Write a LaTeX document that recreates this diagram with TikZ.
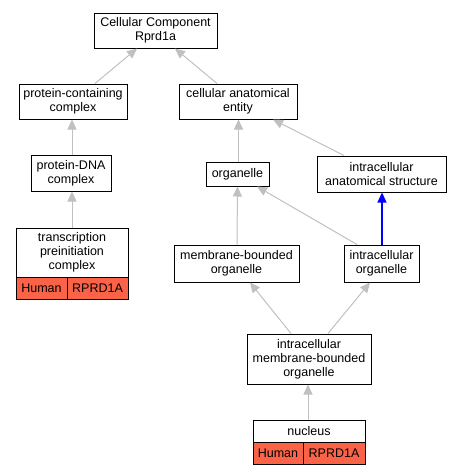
\documentclass[tikz,border=0pt]{standalone}
\usepackage{fontspec}
\setmainfont{Liberation Sans}
\usetikzlibrary{arrows.meta}
\definecolor{genecell}{HTML}{FA6347}
\definecolor{edgegray}{HTML}{C0C0C0}
\begin{document}
\begin{tikzpicture}[x=1pt,y=-1pt,
  box/.style={draw=black, line width=1pt, fill=white, inner sep=0pt, align=center,
    font=\fontsize{12.5}{14}\selectfont},
  cell/.style={box, fill=genecell},
  isa/.style={draw=edgegray, line width=1pt, -{Triangle[length=10pt,width=9pt]}},
  partof/.style={draw=blue, line width=1.3pt, -{Triangle[length=10pt,width=9pt]}}]
\useasboundingbox (0,0) rectangle (461,475);
\node[box, minimum width=123pt, minimum height=35pt] (cc) at (155.5,30.5) {Cellular Component\\Rprd1a};
\node[box, minimum width=108pt, minimum height=35pt] (pcc) at (73,101.5) {protein-containing\\complex};
\node[box, minimum width=118pt, minimum height=35pt] (cae) at (238,101.5) {cellular anatomical\\entity};
\node[box, minimum width=80pt, minimum height=36pt] (pdna) at (71,173) {protein-DNA\\complex};
\node[box, minimum width=63pt, minimum height=24pt] (org) at (237.5,174) {organelle};
\node[box, minimum width=129pt, minimum height=36pt] (ias) at (381.5,174) {intracellular\\anatomical structure};
\node[box, minimum width=112pt, minimum height=49pt] (tpc) at (72,252.5) {transcription\\preinitiation\\complex};
\node[cell, minimum width=51pt, minimum height=22pt] (tpch) at (41.5,288) {Human};
\node[cell, minimum width=61pt, minimum height=22pt] (tpcg) at (97.5,288) {RPRD1A};
\node[box, minimum width=125pt, minimum height=37pt] (mbo) at (236.5,263.5) {membrane-bounded\\organelle};
\node[box, minimum width=75pt, minimum height=37pt] (io) at (381.5,263.5) {intracellular\\organelle};
\node[box, minimum width=124pt, minimum height=50pt] (imbo) at (309,359) {intracellular\\membrane-bounded\\organelle};
\node[box, minimum width=112pt, minimum height=22pt] (nuc) at (309,431) {nucleus};
\node[cell, minimum width=50pt, minimum height=22pt] (nuch) at (278,453) {Human};
\node[cell, minimum width=62pt, minimum height=22pt] (nucg) at (334,453) {RPRD1A};

\draw[isa] ([xshift=22pt]pcc.north) -- ([xshift=-18.5pt]cc.south);
\draw[isa] ([xshift=-21pt]cae.north) -- ([xshift=19.5pt]cc.south);
\draw[isa] ([xshift=1pt]pdna.north) -- ([xshift=-1pt]pcc.south);
\draw[isa] (tpc.north) -- ([xshift=1pt]pdna.south);
\draw[isa] ([xshift=1pt]org.north) -- ([xshift=0.5pt]cae.south);
\draw[isa] ([xshift=-37.5pt]ias.north) -- ([xshift=35pt]cae.south);
\draw[isa] ([xshift=0.5pt]mbo.north) -- (org.south);
\draw[isa] ([xshift=-24.5pt]io.north) -- ([xshift=19.5pt]org.south);
\draw[partof] ([xshift=0.5pt]io.north) -- ([xshift=0.5pt]ias.south);
\draw[isa] ([xshift=-18pt]imbo.north) -- ([xshift=13.5pt]mbo.south);
\draw[isa] ([xshift=19pt]imbo.north) -- ([xshift=-11.5pt]io.south);
\draw[isa] ([xshift=-1pt]nuc.north) -- ([xshift=-1pt]imbo.south);
\end{tikzpicture}
\end{document}
